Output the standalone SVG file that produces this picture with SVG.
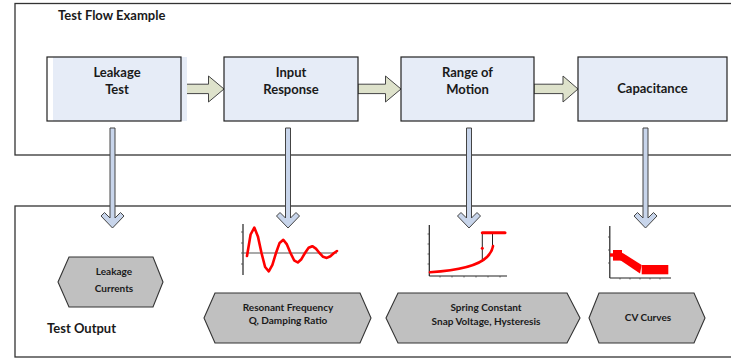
<svg xmlns="http://www.w3.org/2000/svg" width="731" height="359" viewBox="0 0 731 359">
<style>
.frame{fill:#fff;stroke:#333;stroke-width:1.3}
.box{fill:#fff;stroke:#222;stroke-width:1.2}
.boxfill{fill:#E6ECF7}
.t{font-family:Lato,"Liberation Sans",sans-serif;font-weight:bold;fill:#1a1a1a;text-anchor:middle}
.bt{font-size:13px}
.ht{font-size:10px}
.hex{fill:#C0C0C0;stroke:#333;stroke-width:1.1}
.harrow{fill:#DEE2CB;stroke:#444;stroke-width:1}
.varrow{fill:#C8D5EB;stroke:#444;stroke-width:1}
.axis{fill:none;stroke:#222;stroke-width:1.2}
.tick{fill:none;stroke:#444;stroke-width:0.8}
.red{fill:none;stroke:#F00;stroke-width:2.6;stroke-linejoin:round;stroke-linecap:round}
.redf{fill:#F00}
</style>
<rect class="frame" x="15" y="3.5" width="730" height="151.5"/>
<rect class="frame" x="15" y="206" width="730" height="151"/>
<text class="t" x="58" y="20" style="font-size:13px;text-anchor:start">Test Flow Example</text>
<text class="t" x="47" y="333" style="font-size:13px;text-anchor:start">Test Output</text>

<g id="connectors">
<polygon class="harrow" points="181,84.2 208.5,84.2 208.5,76 224,89 208.5,102 208.5,93.6 181,93.6"/>
<polygon class="harrow" points="358,84.2 385.5,84.2 385.5,76 401,89 385.5,102 385.5,93.6 358,93.6"/>
<polygon class="harrow" points="534,84.2 563,84.2 563,76 578,89 563,102 563,93.6 534,93.6"/>
<polygon class="varrow" points="110,128 110,218 104.5,212.5 101,216 112.5,228 124,216 120.5,212.5 115,218 115,128"/>
<polygon class="varrow" points="285.5,128 285.5,218 280,212.5 276.5,216 288,228 299.5,216 296,212.5 290.5,218 290.5,128"/>
<polygon class="varrow" points="466.5,128 466.5,218 461,212.5 457.5,216 469,228 480.5,216 477,212.5 471.5,218 471.5,128"/>
<polygon class="varrow" points="643,128 643,218 637.5,212.5 634,216 645.5,228 657,216 653.5,212.5 648,218 648,128"/>
</g>

<g id="node-leakage-test">
<rect class="boxfill" x="53" y="57" width="134" height="64"/>
<rect class="box" x="47" y="57" width="134" height="64" style="fill:none"/>
<text class="t bt" x="117" y="77">Leakage</text>
<text class="t bt" x="117" y="94">Test</text>
</g>
<g id="node-input-response">
<rect class="box boxfill" x="224" y="57" width="134" height="64" style="stroke:#222"/>
<text class="t bt" x="291" y="77">Input</text>
<text class="t bt" x="291" y="94">Response</text>
</g>
<g id="node-range-of-motion">
<rect class="box boxfill" x="401" y="57" width="133" height="64" style="stroke:#222"/>
<text class="t bt" x="467.5" y="77">Range of</text>
<text class="t bt" x="467.5" y="94">Motion</text>
</g>
<g id="node-capacitance">
<rect class="box boxfill" x="578" y="57" width="149" height="64" style="stroke:#222"/>
<text class="t bt" x="652.5" y="93">Capacitance</text>
</g>

<g id="node-leakage-currents">
<polygon class="hex" points="58,282 69,257 153,257 163,282 153,307 69,307"/>
<text class="t ht" x="114" y="275">Leakage</text>
<text class="t ht" x="114" y="292">Currents</text>
</g>
<g id="node-resonant">
<polygon class="hex" points="204,318 215,293 360,293 371,318 360,343 215,343"/>
<text class="t ht" x="288" y="311">Resonant  Frequency</text>
<text class="t ht" x="288" y="324">Q, Damping Ratio</text>
</g>
<g id="node-spring">
<polygon class="hex" points="386,318 398,293 567,293 580,318 567,343 398,343"/>
<text class="t ht" x="486" y="311">Spring Constant</text>
<text class="t ht" x="486" y="325">Snap Voltage, Hysteresis</text>
</g>
<g id="node-cv">
<polygon class="hex" points="589,318 599,293 694,293 705,318 694,343 599,343"/>
<text class="t ht" x="648" y="321">CV Curves</text>
</g>

<g id="chart-damped">
<line class="axis" x1="243" y1="224" x2="243" y2="275"/>
<line x1="243" y1="253" x2="337" y2="253" stroke="#555" stroke-width="1.2"/>
<path class="tick" d="M241,232h2M241,243h2M241,253h2M241,264h2"/>
<polyline class="red" points="247,256 250.6,234.5 254.3,227.6 257.9,236.4 261.5,253 265.1,267 268.8,271.3 272.4,264.9 276,253 279.6,242.9 283.3,239.8 286.9,244.4 290.5,253 294.1,260.3 297.8,262.5 301.4,259.2 305,253 308.6,247.8 312.3,246.2 315.9,248.6 319.5,253 323.1,256.8 326.8,257.9 330.4,256.2 334,253 337,251"/>
</g>
<g id="chart-hysteresis">
<line class="axis" x1="429.3" y1="225" x2="429.3" y2="276"/>
<line class="axis" x1="429.3" y1="276" x2="507" y2="276"/>
<path class="tick" d="M427.5,234h1.8M427.5,244h1.8M427.5,254h1.8M427.5,264h1.8M440,276v1.5M452,276v1.5M464,276v1.5M476,276v1.5M488,276v1.5M500,276v1.5"/>
<line x1="482.3" y1="232.7" x2="482.3" y2="262" stroke="#222" stroke-width="1"/>
<line x1="492.5" y1="232.7" x2="492.5" y2="249" stroke="#222" stroke-width="1"/>
<path class="red" d="M430,272.3 C458,270.5 478,266 487,257 C491,253 492.5,250 493,246"/>
<line class="red" x1="482.3" y1="232.7" x2="505" y2="232.7" style="stroke-width:3"/>
<circle class="redf" cx="482.3" cy="248.3" r="1.5"/>
</g>
<g id="chart-cv">
<line class="axis" x1="609.8" y1="226" x2="609.8" y2="278"/>
<line class="axis" x1="609.8" y1="278" x2="671" y2="278"/>
<path class="tick" d="M608,237h1.8M608,250h1.8M608,263h1.8M620,278v1.5M630,278v1.5M640,278v1.5M650,278v1.5M660,278v1.5"/>
<rect class="redf" x="610" y="253.3" width="4" height="3.4"/>
<rect class="redf" x="613" y="250" width="9" height="10.6"/>
<polygon class="redf" points="622.3,252.7 641.7,265 640,273.5 620,260"/>
<rect class="redf" x="641.7" y="265" width="26.6" height="9.3"/>
</g>
</svg>
